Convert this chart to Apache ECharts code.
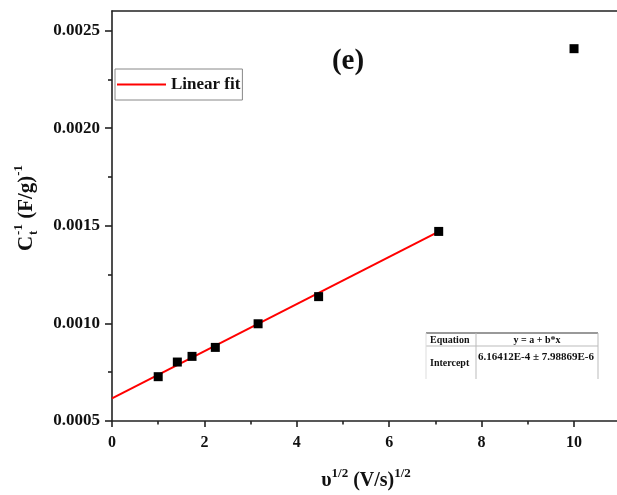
<!DOCTYPE html>
<html>
<head>
<meta charset="utf-8">
<script src="https://cdn.jsdelivr.net/npm/echarts@6/dist/echarts.min.js"></script>
<style>
  html, body { margin: 0; padding: 0; background: #ffffff; }
  #chart { width: 617px; height: 495px; }
</style>
</head>
<body>
<div id="chart"></div>
<script>
// Square root of scan rate, (V/s)^1/2
const sqrtScanRate = [1, 1.414, 1.732, 2.236, 3.162, 4.472, 7.071, 10];
// Reciprocal total capacitance, (F/g)^-1
const inverseCap = [0.000727, 0.000802, 0.000831, 0.000877, 0.000998, 0.001137, 0.001471, 0.002407];

// Linear fit y = a + b*x (drawn over the low-rate range)
const fitIntercept = 6.16412e-4;
const fitX = [0, 7.071];
const fitY = [fitIntercept, 0.001470];

// Axis ticks
const xMajorTicks = [0, 2, 4, 6, 8, 10];
const xMinorTicks = [1, 3, 5, 7, 9];
const yMajorTicks = [0.0005, 0.0010, 0.0015, 0.0020, 0.0025];
const yMinorTicks = [0.00075, 0.00125, 0.00175, 0.00225];

// Fit-parameter table
const tableHeader = ['Equation', 'y = a + b*x'];
const tableRow = ['Intercept', '6.16412E-4 \u00b1 7.98869E-6'];

const SERIF = '"Liberation Serif", "Times New Roman", serif';
const AXIS_COLOR = '#222';

const measureCtx = document.createElement('canvas').getContext('2d');
function textWidth(text, size) {
  measureCtx.font = 'bold ' + size + 'px ' + SERIF;
  return measureCtx.measureText(text).width;
}
function txt(text, x, y, size, align) {
  return {
    type: 'text', x: x, y: y,
    style: {
      text: text, font: 'bold ' + size + 'px ' + SERIF, fill: '#111',
      align: align || 'left', verticalAlign: 'middle'
    }
  };
}

// Y axis title: C_t^-1 (F/g)^-1, laid out along the rotated baseline
function yTitle() {
  const big = 21, small = 13;
  const wC = textWidth('C', big), wS1 = textWidth('-1', small);
  const wF = textWidth(' (F/g)', big), wS2 = textWidth('-1', small);
  const total = wC + 1 + wS1 + wF + wS2;
  const x0 = -total / 2;
  return {
    type: 'group', x: 27, y: 208, rotation: Math.PI / 2,
    children: [
      txt('C', x0, 0, big),
      txt('-1', x0 + wC + 1, -8, small),
      txt('t', x0 + wC + 1, 7, small),
      txt(' (F/g)', x0 + wC + 1 + wS1, 0, big),
      txt('-1', x0 + wC + 1 + wS1 + wF, -8, small)
    ]
  };
}

// X axis title: υ^1/2 (V/s)^1/2
function xTitle() {
  const big = 20, small = 13;
  const wU = textWidth('\u03c5', big), wS = textWidth('1/2', small);
  const wV = textWidth(' (V/s)', big);
  const total = wU + wS + wV + wS;
  const x0 = -total / 2;
  return {
    type: 'group', x: 366, y: 481,
    children: [
      txt('\u03c5', x0, 0, big),
      txt('1/2', x0 + wU, -7, small),
      txt(' (V/s)', x0 + wU + wS, 0, big),
      txt('1/2', x0 + wU + wS + wV, -7, small)
    ]
  };
}

function line(x1, y1, x2, y2, stroke, width) {
  return { type: 'line', shape: { x1: x1, y1: y1, x2: x2, y2: y2 },
           style: { stroke: stroke, lineWidth: width } };
}

// Fit-parameter table in the lower right of the plot
function fitTable() {
  const L = 426, M = 476, R = 598, T = 333, H = 346, B = 379;
  return {
    type: 'group',
    children: [
      { type: 'rect', shape: { x: L, y: T, width: R - L, height: B - T }, style: { fill: '#fff' } },
      line(L, T, R, T, '#999', 2),
      line(L, H, R, H, '#bbb', 1),
      line(M, T, M, B, '#bbb', 1),
      line(R, T, R, B, '#bbb', 1),
      line(L, T, L, B, '#ddd', 1),
      txt(tableHeader[0], 430, 340, 10),
      txt(tableHeader[1], (M + R) / 2, 340, 10, 'center'),
      txt(tableRow[0], 430, 363, 10),
      txt(tableRow[1], 478, 357, 11)
    ]
  };
}

const chart = echarts.init(document.getElementById('chart'), null, { renderer: 'canvas' });

const axisLineStyle = { color: AXIS_COLOR, width: 1.6 };
const labelStyle = { fontFamily: SERIF, fontWeight: 'bold', color: '#111' };

chart.setOption({
  animation: false,
  backgroundColor: '#ffffff',
  grid: { left: 112, top: 11, width: 505, height: 410, containLabel: false },
  legend: {
    data: ['Linear fit'],
    left: 115, top: 69,
    padding: [7, 2, 7, 2],
    icon: 'rect', itemWidth: 49, itemHeight: 2,
    borderColor: '#888', borderWidth: 1,
    textStyle: Object.assign({ fontSize: 17 }, labelStyle)
  },
  xAxis: [
    {
      type: 'value', min: 0, max: 10.93, position: 'bottom',
      axisLine: { lineStyle: axisLineStyle },
      axisTick: { customValues: xMajorTicks, length: 6, lineStyle: axisLineStyle },
      axisLabel: Object.assign({ customValues: xMajorTicks, margin: 14, fontSize: 16,
                                  formatter: v => String(v) }, labelStyle),
      splitLine: { show: false }
    },
    {
      type: 'value', min: 0, max: 10.93, position: 'bottom',
      axisLine: { show: false },
      axisTick: { customValues: xMinorTicks, length: 3.5, lineStyle: axisLineStyle },
      axisLabel: { show: false }, splitLine: { show: false }
    },
    {
      type: 'value', min: 0, max: 10.93, position: 'top',
      axisLine: { lineStyle: axisLineStyle },
      axisTick: { show: false }, axisLabel: { show: false }, splitLine: { show: false }
    }
  ],
  yAxis: [
    {
      type: 'value', min: 0.0005, max: 0.0026, position: 'left',
      axisLine: { lineStyle: axisLineStyle },
      axisTick: { customValues: yMajorTicks, length: 7, lineStyle: axisLineStyle },
      axisLabel: Object.assign({ customValues: yMajorTicks, margin: 12, fontSize: 17,
                                  formatter: v => v.toFixed(4) }, labelStyle),
      splitLine: { show: false }
    },
    {
      type: 'value', min: 0.0005, max: 0.0026, position: 'left',
      axisLine: { show: false },
      axisTick: { customValues: yMinorTicks, length: 4, lineStyle: axisLineStyle },
      axisLabel: { show: false }, splitLine: { show: false }
    }
  ],
  series: [
    {
      name: 'Linear fit', type: 'line', xAxisIndex: 0, yAxisIndex: 0,
      data: fitX.map((x, i) => [x, fitY[i]]),
      showSymbol: false, symbol: 'none',
      color: '#ff0000',
      lineStyle: { color: '#ff0000', width: 2 },
      z: 3
    },
    {
      name: 'Data', type: 'scatter', xAxisIndex: 0, yAxisIndex: 0,
      data: sqrtScanRate.map((x, i) => [x, inverseCap[i]]),
      symbol: 'rect', symbolSize: 9,
      itemStyle: { color: '#000000', opacity: 1 },
      z: 4
    }
  ],
  graphic: [
    yTitle(),
    xTitle(),
    txt('(e)', 348, 62, 29, 'center'),
    fitTable()
  ]
});
</script>
</body>
</html>
